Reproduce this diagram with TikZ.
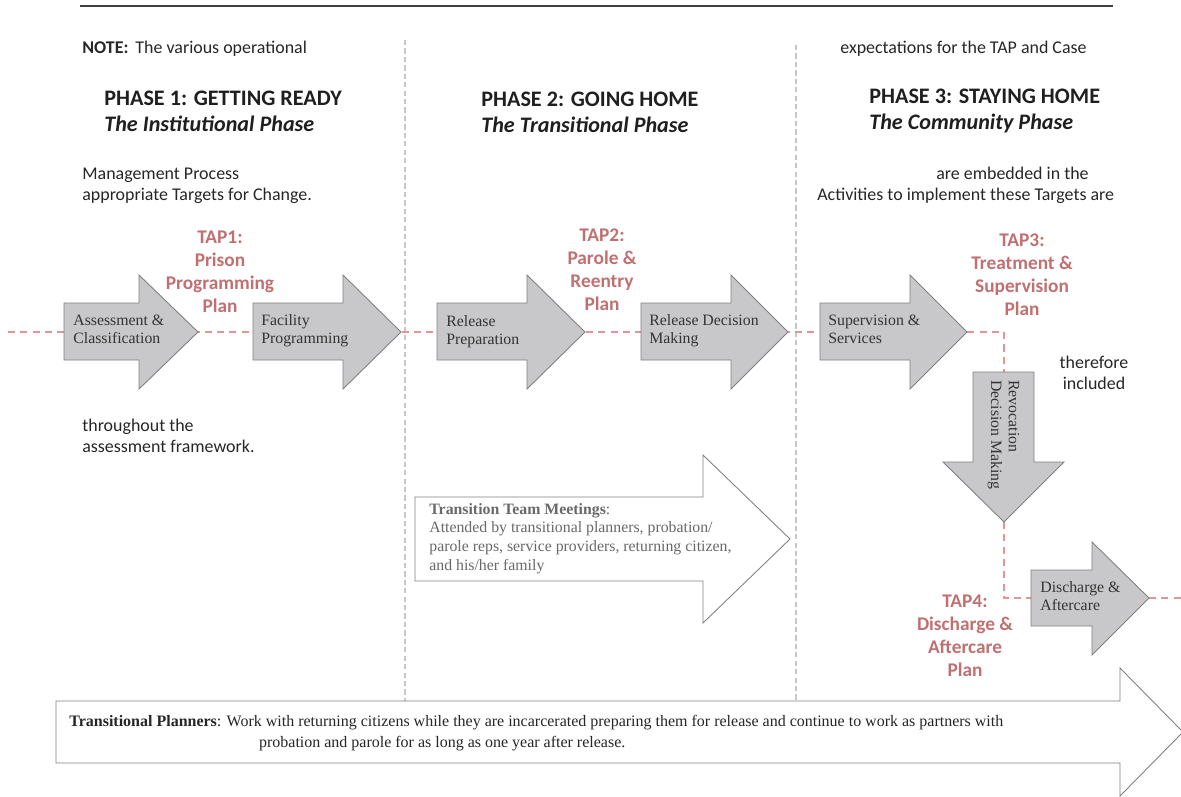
\documentclass[tikz,border=0pt]{standalone}
\usepackage{fontspec}
\setmainfont{Carlito}
\newfontfamily\tnr{Liberation Serif}
\usepackage{tikz}
\usepackage{xcolor}

\definecolor{tapred}{RGB}{192,112,112}
\definecolor{dashred}{RGB}{228,148,148}
\definecolor{boxgray}{RGB}{200,200,202}
\definecolor{edgegray}{RGB}{128,128,128}
\definecolor{sepgray}{RGB}{200,200,200}
\definecolor{softtext}{RGB}{105,105,105}

\tikzset{
  body/.style = {font=\fontsize{10.2}{11.8}\selectfont, text=black!85, inner sep=0pt, align=left},
  phase/.style = {font=\fontsize{12.6}{14.7}\selectfont\bfseries, text=black!88, inner sep=0pt, align=left},
  tap/.style = {font=\fontsize{11}{13}\selectfont\bfseries, text=tapred, inner sep=0pt, align=center, anchor=base},
  step label/.style = {font=\tnr\fontsize{9}{10.2}\selectfont, text=black!80, inner sep=0pt, align=left, anchor=base west},
  grayarrow/.style = {fill=boxgray, draw=edgegray, line width=0.5pt, line join=miter},
  whitearrow/.style = {fill=white, draw=edgegray, line width=0.5pt, line join=miter},
  tapline/.style = {draw=dashred, line width=0.7pt, dash pattern=on 4pt off 3pt},
  divider/.style = {draw=sepgray, line width=0.6pt, dash pattern=on 3pt off 1.8pt}
}

\begin{document}
\begin{tikzpicture}[x=0.02cm, y=-0.02cm]
\useasboundingbox (0,0) rectangle (1181,796);

\draw[draw=black!75, line width=0.6pt] (80,6) -- (1113,6);
\draw[divider] (405,40) -- (405,701);
\draw[divider] (796,45) -- (796,701);

\coordinate (start) at (8,332);
\coordinate (turn1) at (1004,332);
\coordinate (revtop) at (1004,372);
\coordinate (revtip) at (1004,522);
\coordinate (turn2) at (1004,598);
\coordinate (disback) at (1031,598);
\coordinate (distip) at (1149,598);
\coordinate (end) at (1181,598);
\draw[tapline] (start) -- (turn1) -- (revtop);
\draw[tapline] (revtip) -- (turn2) -- (disback);
\draw[tapline] (distip) -- (end);

\draw[grayarrow] (64,303) -- (139,303) -- (139,275) -- (198,332) -- (139,389) -- (139,360) -- (64,360) -- cycle;
\draw[grayarrow] (253,303) -- (343,303) -- (343,275) -- (401,332) -- (343,389) -- (343,360) -- (253,360) -- cycle;
\draw[grayarrow] (437,303) -- (527,303) -- (527,275) -- (585,332) -- (527,389) -- (527,360) -- (437,360) -- cycle;
\draw[grayarrow] (641,303) -- (731,303) -- (731,275) -- (788,332) -- (731,389) -- (731,360) -- (641,360) -- cycle;
\draw[grayarrow] (820,303) -- (910,303) -- (910,275) -- (967,332) -- (910,389) -- (910,360) -- (820,360) -- cycle;
\draw[grayarrow] (973,372) -- (1034,372) -- (1034,462) -- (1064,462) -- (1004,522) -- (943,462) -- (973,462) -- cycle;
\draw[grayarrow] (1031,570) -- (1092,570) -- (1092,542) -- (1149,598) -- (1092,655) -- (1092,626) -- (1031,626) -- cycle;
\draw[whitearrow] (415,497) -- (703,497) -- (703,455) -- (790,539) -- (703,623) -- (703,581) -- (415,581) -- cycle;
\draw[whitearrow] (56,701) -- (1120,701) -- (1120,668) -- (1183,732) -- (1120,796) -- (1120,763) -- (56,763) -- cycle;

% multi-line nodes sit on the baseline of their last line
\node[step label] (assess) at (73,343) {Assessment \&\\Classification};
\node[step label] (facility) at (261,343) {Facility\\Programming};
\node[step label] (prep) at (446,344) {Release\\Preparation};
\node[step label] (decision) at (649,343) {Release Decision\\Making};
\node[step label] (supervise) at (828,343) {Supervision \&\\Services};
\node[step label, rotate=-90] (revoke) at (991,380) {Revocation\\Decision Making};
\node[step label] (discharge) at (1040,610) {Discharge \&\\Aftercare};

\node[font=\tnr\fontsize{9}{10.6}\selectfont, text=softtext, inner sep=0pt, align=left, anchor=base west] (meetings) at (429,570)
  {\textbf{Transition Team Meetings}:\\Attended by transitional planners, probation/\\parole reps, service providers, returning citizen,\\and his/her family};
\node[font=\tnr\fontsize{9.1}{11.9}\selectfont, text=black!85, inner sep=0pt, align=left, anchor=base west] (planners) at (69,747)
  {\textbf{Transitional Planners}: Work with returning citizens while they are incarcerated preparing them for release and continue to work as partners with\\\hspace*{108pt}probation and parole for as long as one year after release.};

\node[tap] (tap1) at (220,312) {TAP1:\\Prison\\Programming\\Plan};
\node[tap] (tap2) at (602,310) {TAP2:\\Parole \&\\Reentry\\Plan};
\node[tap] (tap3) at (1022,315) {TAP3:\\Treatment \&\\Supervision\\Plan};
\node[tap] (tap4) at (965,676) {TAP4:\\Discharge \&\\Aftercare\\Plan};

\node[phase, anchor=base west] (phase1) at (104,131) {PHASE 1: GETTING READY\\\textit{The Institutional Phase}};
\node[phase, anchor=base west] (phase2) at (481,132) {PHASE 2: GOING HOME\\\textit{The Transitional Phase}};
\node[phase, anchor=base west] (phase3) at (869,129) {PHASE 3: STAYING HOME\\\textit{The Community Phase}};

\node[body, anchor=base west] (note) at (82,53) {\textbf{NOTE:}\, The various operational};
\node[body, anchor=base west] (expect) at (840,53) {expectations for the TAP and Case};
\node[body, anchor=base west] (mgmt) at (82,200) {Management Process\\appropriate Targets for Change.};
\node[body, anchor=base west] (embed) at (936,179) {are embedded in the};
\node[body, anchor=base west] (activ) at (817,200) {Activities to implement these Targets are};
\node[body, anchor=base, align=center] (therefore) at (1094,389) {therefore\\included};
\node[body, anchor=base west] (through) at (82,452) {throughout the\\assessment framework.};
\end{tikzpicture}
\end{document}
